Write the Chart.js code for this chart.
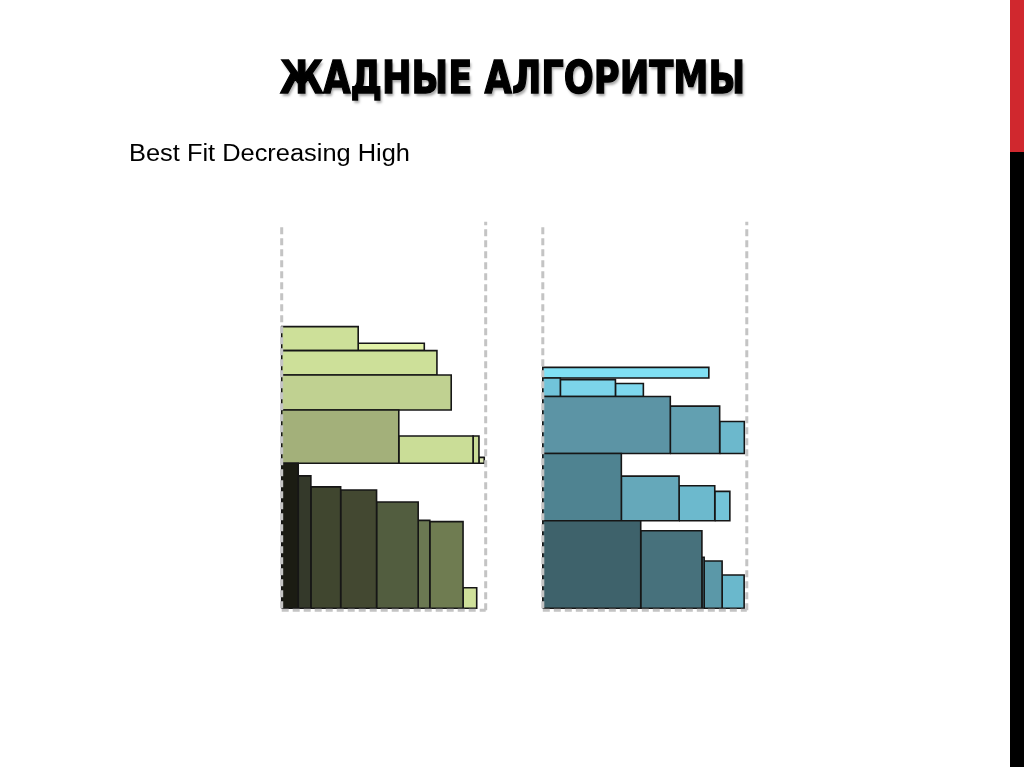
<!DOCTYPE html>
<html>
<head>
<meta charset="utf-8">
<script src="https://cdn.jsdelivr.net/npm/chart.js@4"></script>
<style>
  html, body { margin: 0; padding: 0; background: #fff; }
  #page { position: relative; width: 1024px; height: 767px; overflow: hidden; background: #fff; }
  #chart { position: absolute; left: 0; top: 0; }
  #titulo {
    position: absolute; left: 280px; top: 55px; margin: 0;
    font: bold 45px/45px "DejaVu Sans", sans-serif; color: #000; white-space: nowrap;
    -webkit-text-stroke: 1.4px #000;
    text-shadow: 2px 3px 3px rgba(0,0,0,0.35);
    transform-origin: 0 0;
  }
  #subtitulo {
    position: absolute; left: 129px; top: 142px; margin: 0;
    font: 23.5px/23.5px "Liberation Sans", Arial, sans-serif; color: #000; white-space: nowrap;
    transform-origin: 0 0;
  }
  #barraRoja { position: absolute; left: 1010px; top: 0; width: 14px; height: 152px; background: #d0282e; }
  #barraNegra { position: absolute; left: 1010px; top: 152px; width: 14px; height: 615px; background: #000; }
</style>
</head>
<body>
<div id="page">
  <canvas id="chart" width="1024" height="767"></canvas>
  <div id="titulo">ЖАДНЫЕ АЛГОРИТМЫ</div>
  <div id="subtitulo">Best Fit Decreasing High</div>
  <div id="barraRoja"></div>
  <div id="barraNegra"></div>
</div>
<script>
// ---------- datos (ancho de bin = 100) ----------
// cada fila = un nivel (shelf), de abajo hacia arriba
const binWidth = 100;
const binHeightLeft = 188;
const binHeightRight = 189.5;

const leftWidths = [
  [8.1, 6.2, 14.6, 17.6, 20.4, 5.7, 16.3, 6.7],
  [57.4, 36.4, 2.9, 2.6],
  [83.1],
  [76.1],
  [37.5, 32.4]
];
const leftHeights = [
  [71.1, 64.9, 59.5, 58.0, 52.1, 43.1, 42.5, 10.1],
  [26.1, 13.4, 13.4, 2.9],
  [17.2],
  [11.9],
  [11.8, 3.6]
];
const leftColors = [
  ['#1b1c13', '#34392a', '#40462f', '#434831', '#525d3f', '#6b7852', '#6f7c51', '#cfe09a'],
  ['#a3b07a', '#cadd97', '#cadd97', '#dfeab6'],
  ['#c0d191'],
  ['#cde099'],
  ['#cde099', '#e2f2a8']
];

const rightWidths = [
  [48.0, 30.0, 1.1, 8.8, 10.8],
  [38.5, 28.3, 17.5, 7.4],
  [62.5, 24.2, 12.1],
  [8.6, 27.0, 13.7],
  [81.4]
];
const rightHeights = [
  [42.9, 38.0, 25.0, 23.2, 16.3],
  [33.0, 21.9, 17.2, 14.4],
  [27.9, 23.2, 15.7],
  [9.1, 8.3, 6.4],
  [5.2]
];
const rightColors = [
  ['#3e626b', '#47717c', '#5a8f9d', '#5b98a8', '#6ab8cc'],
  ['#4f8391', '#65a8ba', '#6cb9cd', '#73c4d8'],
  ['#5c94a5', '#62a0b1', '#6cb8cc'],
  ['#71c4da', '#7cd4ea', '#7ed8ee'],
  ['#80e0f4']
];

// ---------- armado ----------
// niveles: cada nivel arranca arriba del item más alto del anterior
function shelfRects(widths, heights, colors, offsetX) {
  const out = [];
  let base = 0;
  widths.forEach((row, i) => {
    let x = offsetX;
    row.forEach((w, j) => {
      const h = heights[i][j];
      out.push({
        type: 'scatter',
        data: [
          { x: x, y: base }, { x: x + w, y: base },
          { x: x + w, y: base + h }, { x: x, y: base + h }, { x: x, y: base }
        ],
        showLine: true,
        fill: 'shape',
        backgroundColor: colors[i][j],
        borderColor: '#161616',
        borderWidth: 1.6,
        borderJoinStyle: 'miter',
        pointRadius: 0,
        tension: 0
      });
      x += w;
    });
    base += Math.max(...heights[i]);
  });
  return out;
}

function binOutline(offsetX, hLeft, hRight) {
  const st = {
    type: 'scatter', showLine: true, fill: false,
    borderColor: '#c4c4c4', borderWidth: 3, borderDash: [7, 4],
    pointRadius: 0, tension: 0
  };
  return [
    Object.assign({ data: [{ x: offsetX, y: 0 }, { x: offsetX, y: hLeft }] }, st),
    Object.assign({ data: [{ x: offsetX + binWidth, y: -1 }, { x: offsetX + binWidth, y: hRight }] }, st),
    Object.assign({ data: [{ x: offsetX, y: -1 }, { x: offsetX + binWidth, y: -1 }] }, st)
  ];
}

const rightOffset = 128;
const datasets = [
  ...binOutline(0, binHeightLeft, binHeightLeft + 1.5),
  ...binOutline(rightOffset, binHeightLeft, binHeightRight),
  ...shelfRects(leftWidths, leftHeights, leftColors, 0),
  ...shelfRects(rightWidths, rightHeights, rightColors, rightOffset)
];

new Chart(document.getElementById('chart'), {
  type: 'scatter',
  data: { datasets },
  options: {
    responsive: false,
    animation: false,
    events: [],
    layout: { padding: 0 },
    plugins: { legend: { display: false }, tooltip: { enabled: false } },
    scales: {
      x: { type: 'linear', display: false, min: -138.1, max: 363.9 },
      y: { type: 'linear', display: false, min: -77.8, max: 298.2 }
    }
  }
});

// ajustar anchos de los textos
function fitWidth(id, target) {
  const el = document.getElementById(id);
  const w = el.getBoundingClientRect().width;
  el.style.transform = `scaleX(${target / w})`;
}
fitWidth('titulo', 465);
fitWidth('subtitulo', 281);
</script>
</body>
</html>
